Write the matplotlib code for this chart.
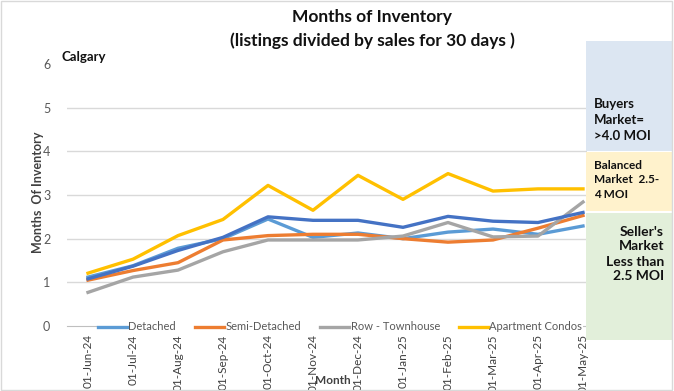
import matplotlib
matplotlib.use("Agg")
import matplotlib.pyplot as plt
from matplotlib.patches import Rectangle

plt.rcParams['font.family'] = ['Lato', 'DejaVu Sans']

months = ["01-Jun-24", "01-Jul-24", "01-Aug-24", "01-Sep-24", "01-Oct-24", "01-Nov-24",
          "01-Dec-24", "01-Jan-25", "01-Feb-25", "01-Mar-25", "01-Apr-25", "01-May-25"]
detached = [1.12, 1.38, 1.78, 2.00, 2.45, 2.03, 2.13, 2.00, 2.15, 2.22, 2.10, 2.29]
semi_detached = [1.05, 1.27, 1.45, 1.97, 2.07, 2.10, 2.10, 2.00, 1.92, 1.97, 2.24, 2.53]
row_townhouse = [0.77, 1.12, 1.28, 1.70, 1.97, 1.97, 1.97, 2.06, 2.37, 2.04, 2.06, 2.84]
apartment = [1.21, 1.53, 2.07, 2.44, 3.22, 2.65, 3.45, 2.90, 3.49, 3.09, 3.14, 3.14]
total = [1.08, 1.37, 1.73, 2.03, 2.50, 2.42, 2.42, 2.26, 2.51, 2.40, 2.37, 2.60]
yticks = [0, 1, 2, 3, 4, 5, 6]

W, H = 674, 391
fig = plt.figure(figsize=(W / 100, H / 100), dpi=100)

def fx(px):
    return px / W

def fy(py):
    return 1 - py / H

ax = fig.add_axes([fx(67), fy(326), fx(587) - fx(67), fy(64) - fy(326)])
x = list(range(len(months)))

for g in yticks[1:6]:
    ax.axhline(g, color="#d9d9d9", lw=1, zorder=0)

lw = 2.4
ax.plot(x, detached, color="#5b9bd5", lw=lw, label="Detached", zorder=3)
ax.plot(x, semi_detached, color="#ed7d31", lw=lw, label="Semi-Detached", zorder=3)
ax.plot(x, row_townhouse, color="#a5a5a5", lw=lw, label="Row - Townhouse", zorder=3)
ax.plot(x, apartment, color="#ffc000", lw=lw, label="Apartment Condos", zorder=3)
ax.plot(x, total, color="#4472c4", lw=lw, zorder=4)

ax.set_xlim(-21 / 45, 11 + 4 / 45)
ax.set_ylim(0, 6)
ax.set_yticks(yticks)
ax.set_yticklabels([str(v) for v in yticks], color="#595959", fontsize=9)
ax.set_xticks(x)
ax.set_xticklabels(months, rotation=90, fontsize=8.5, color="#404040")
ax.tick_params(axis="x", length=0, pad=6)
ax.tick_params(axis="y", length=0, pad=12)
for s in ["top", "right", "left"]:
    ax.spines[s].set_visible(False)
ax.spines["bottom"].set_color("#bfbfbf")
ax.set_facecolor("none")

leg = ax.legend(loc="center", bbox_to_anchor=(fx(340), fy(327)), bbox_transform=fig.transFigure,
                ncol=4, frameon=True, fontsize=8, handlelength=2.6, columnspacing=1.7,
                handletextpad=0.15, labelcolor="#595959", borderpad=0.1, borderaxespad=0)
leg.get_frame().set_facecolor("white")
leg.get_frame().set_edgecolor("none")
leg.get_frame().set_alpha(1)
leg.set_zorder(10)

fig.text(fx(372), fy(17), "Months of Inventory", ha="center", va="center",
         fontsize=12.5, fontweight="bold", color="#111111")
fig.text(fx(372), fy(41), "(listings divided by sales for 30 days )", ha="center", va="center",
         fontsize=12.5, fontweight="bold", color="#111111")
fig.text(fx(61), fy(57), "Calgary", ha="left", va="center", fontsize=9.5,
         fontweight="bold", color="#111111")
fig.text(fx(38), fy(192), "Months  Of Inventory", rotation=90, ha="center", va="center",
         fontsize=9, fontweight="bold", color="#404040")
fig.text(fx(333), fy(381), "Month", ha="center", va="center", fontsize=8.5,
         fontweight="bold", color="#404040")

# market boxes
fig.patches.append(Rectangle((fx(586), fy(151)), fx(672) - fx(586), fy(41) - fy(151),
                             transform=fig.transFigure, facecolor="#dce6f2", edgecolor="none"))
fig.patches.append(Rectangle((fx(586), fy(211)), fx(672) - fx(586), fy(152) - fy(211),
                             transform=fig.transFigure, facecolor="#fff2cc", edgecolor="none"))
fig.patches.append(Rectangle((fx(586), fy(340)), fx(672) - fx(586), fy(213) - fy(340),
                             transform=fig.transFigure, facecolor="#e2efda", edgecolor="none"))

fig.text(fx(594), fy(120), "Buyers\nMarket=\n>4.0 MOI", ha="left", va="center",
         fontsize=9.5, fontweight="bold", color="#111111", linespacing=1.35)
fig.text(fx(594), fy(180), "Balanced\nMarket  2.5-\n4 MOI", ha="left", va="center",
         fontsize=8.5, fontweight="bold", color="#111111", linespacing=1.35)
fig.text(fx(664), fy(254), "Seller's\nMarket\nLess than\n2.5 MOI", ha="right", va="center",
         fontsize=10, fontweight="bold", color="#111111", linespacing=1.3)

# outer border
fig.patches.append(Rectangle((0.002, 0.003), 0.995, 0.994, transform=fig.transFigure,
                             facecolor="none", edgecolor="#d9d9d9", lw=1))

fig.savefig("out.png", dpi=100)
